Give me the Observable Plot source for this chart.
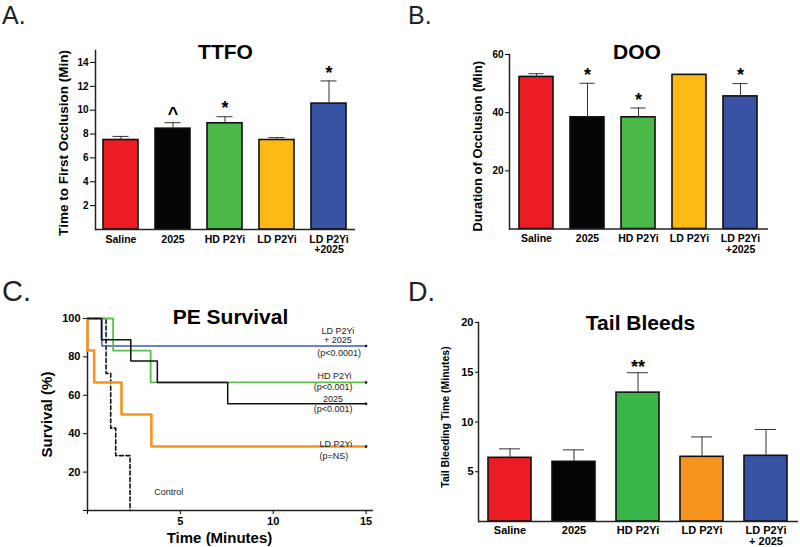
<!DOCTYPE html>
<html>
<head>
<meta charset="utf-8">
<script src="https://cdn.jsdelivr.net/npm/d3@7"></script>
<script src="https://cdn.jsdelivr.net/npm/@observablehq/plot@0.6"></script>
<style>
  html, body { margin: 0; padding: 0; background: #fff; }
  #root { position: relative; width: 800px; height: 547px; overflow: hidden; font-family: "Liberation Sans", Arial, Helvetica, sans-serif; }
  .panel { position: absolute; }
  .letter { position: absolute; font-weight: normal; color: #222; line-height: 1; }
</style>
</head>
<body>
<div id="root">
  <div class="panel" id="pA" style="left:0;top:0"></div>
  <div class="panel" id="pB" style="left:400px;top:0"></div>
  <div class="panel" id="pC" style="left:0;top:270px"></div>
  <div class="panel" id="pD" style="left:400px;top:270px"></div>
  <div class="letter" style="left:2px;top:3px;font-size:25px">A.</div>
  <div class="letter" style="left:408px;top:3px;font-size:25px">B.</div>
  <div class="letter" style="left:2px;top:277px;font-size:29px">C.</div>
  <div class="letter" style="left:408px;top:279px;font-size:27px">D.</div>
</div>
<script>
// ---------- data ----------
const categories = ["Saline", "2025", "HD P2Yi", "LD P2Yi", "LD P2Yi + 2025"];
const tickLabelsAB = ["Saline", "2025", "HD P2Yi", "LD P2Yi", "LD P2Yi\n+2025"];
const tickLabelsD = ["Saline", "2025", "HD P2Yi", "LD P2Yi", "LD P2Yi\n+ 2025"];

// A. TTFO
const ttfoMean = [7.5, 8.45, 8.9, 7.5, 10.55];
const ttfoSem = [0.3, 0.5, 0.55, 0.2, 1.9];
const ttfoSig = ["", "^", "*", "", "*"];
// B. DOO
const dooMean = [52.3, 38.4, 38.4, 53.0, 45.6];
const dooSem = [1.1, 11.7, 3.2, 0, 4.4];
const dooSig = ["", "*", "*", "", "*"];
// D. Tail bleeds
const tailMean = [6.4, 6.0, 12.95, 6.5, 6.6];
const tailSem = [0.9, 1.2, 2.0, 2.0, 2.65];
const tailSig = ["", "", "**", "", ""];

// C. PE survival (step functions: time in minutes, survival %)
const tCombo = [0, 0.78, 15];           const sCombo = [100, 85.7, 85.7];
const t2025 = [0, 0.75, 2.33, 3.76, 7.55, 15]; const s2025 = [100, 88.9, 77.8, 66.7, 55.6, 55.6];
const tHD = [0, 1.38, 3.4, 15];         const sHD = [100, 83.3, 66.7, 66.7];
const tLD = [0, 0, 0.36, 1.83, 3.44, 15]; const sLD = [100, 83.3, 66.7, 50, 33.3, 33.3];
const tCtrl = [0, 1.0, 1.25, 1.52, 2.29]; const sCtrl = [100, 71.4, 42.9, 28.6, 0];

const survLabels = ["LD P2Yi", "+ 2025", "(p<0.0001)", "HD P2Yi", "(p<0.001)", "2025", "(p<0.001)", "LD P2Yi", "(p=NS)", "Control"];
const survLabelT = [13.48, 13.48, 13.55, 13.3, 13.23, 13.22, 13.23, 13.37, 13.26, 4.37];
const survLabelS = [93.6, 88.9, 82.0, 70.0, 64.4, 58.0, 52.7, 34.8, 28.2, 9.4];

// ---------- styles ----------
const colorsAB = ["#ec1c24", "#050505", "#4cb848", "#fdb913", "#3953a4"];
const colorsD = ["#ec1c24", "#050505", "#39b54a", "#f7941d", "#3953a4"];
const FONT = '"Liberation Sans", Arial, Helvetica, sans-serif';

function rowsOf(mean, sem, sig) {
  return categories.map((c, i) => ({cat: c, v: mean[i], hi: mean[i] + sem[i], sem: sem[i], sig: sig[i]}));
}

function barPanel(opts) {
  const rows = rowsOf(opts.mean, opts.sem, opts.sig);
  const withErr = rows.filter(d => d.sem > 0);
  const withSig = rows.filter(d => d.sig);
  return Plot.plot({
    width: 400, height: opts.height,
    marginLeft: opts.ml, marginRight: opts.mr, marginTop: opts.mt, marginBottom: opts.mb,
    style: {fontFamily: FONT, fontWeight: "bold", color: "#000", background: "transparent", overflow: "visible"},
    x: {domain: categories, paddingInner: 0.325, paddingOuter: 0.1625, label: null},
    y: {domain: opts.ydomain, label: null},
    color: {domain: categories, range: opts.colors},
    marks: [
      Plot.barY(rows, {x: "cat", y: "v", fill: "cat", stroke: "#111", strokeWidth: 1.6}),
      Plot.ruleX(withErr, {x: "cat", y1: "v", y2: "hi", stroke: "#333", strokeWidth: 1}),
      Plot.tickY(withErr, {x: "cat", y: "hi", stroke: "#333", strokeWidth: 1, insetLeft: opts.capInset, insetRight: opts.capInset}),
      Plot.text(withSig, {x: "cat", y: "hi", text: "sig", dy: opts.sigDy, fontSize: 18, fontWeight: "bold"}),
      Plot.ruleY([0], {stroke: "#222", strokeWidth: 1.5}),
      Plot.frame({anchor: "left", stroke: "#222", strokeWidth: 1.5}),
      Plot.axisY({ticks: opts.yticks, tickSize: opts.tickSize, tickPadding: opts.tickPadding, fontSize: opts.yFont, label: null}),
      Plot.axisX({tickSize: 0, tickPadding: opts.xPad, fontSize: opts.xFont, tickFormat: (d, i) => opts.tickLabels[i], label: null}),
      Plot.text([opts.title], {frameAnchor: "top", lineAnchor: "middle", textAnchor: "middle", dy: opts.titleDy, dx: opts.titleDx || 0, fontSize: 21, fontWeight: "bold"}),
      Plot.text([opts.ylabel], {frameAnchor: "left", textAnchor: "middle", lineAnchor: "middle", rotate: -90, dx: opts.ylabDx, dy: opts.ylabDy, fontSize: opts.ylabFont, fontWeight: "bold"})
    ]
  });
}

document.getElementById("pA").append(barPanel({
  height: 270, ml: 95, mr: 45, mt: 50, mb: 41,
  mean: ttfoMean, sem: ttfoSem, sig: ttfoSig, colors: colorsAB,
  ydomain: [0, 15], yticks: [2, 4, 6, 8, 10, 12, 14], tickSize: 5, tickPadding: 2, yFont: 10,
  xPad: 6, xFont: 10.5, tickLabels: tickLabelsAB, capInset: 9.5, sigDy: -8,
  title: "TTFO", titleDy: 2, ylabel: "Time to First Occlusion (Min)", ylabDx: -32, ylabDy: 3, ylabFont: 13.5
}));

document.getElementById("pB").append(barPanel({
  height: 270, ml: 109, mr: 32, mt: 54, mb: 41.5,
  mean: dooMean, sem: dooSem, sig: dooSig, colors: colorsAB,
  ydomain: [0, 60], yticks: [20, 40, 60], tickSize: 4, tickPadding: 2, yFont: 10,
  xPad: 6, xFont: 10.5, tickLabels: tickLabelsAB, capInset: 9.5, sigDy: -8,
  title: "DOO", titleDy: -2.5, titleDx: -2, ylabel: "Duration of Occlusion (Min)", ylabDx: -32, ylabDy: 4.5, ylabFont: 13
}));

document.getElementById("pD").append(barPanel({
  height: 277, ml: 78, mr: 2, mt: 52, mb: 26,
  mean: tailMean, sem: tailSem, sig: tailSig, colors: colorsD,
  ydomain: [0, 20], yticks: [5, 10, 15, 20], tickSize: 3, tickPadding: 2, yFont: 11,
  xPad: 5, xFont: 11, tickLabels: tickLabelsD, capInset: 11, sigDy: -6,
  title: "Tail Bleeds", titleDy: 1, titleDx: 2, ylabel: "Tail Bleeding Time (Minutes)", ylabDx: -33, ylabDy: -5, ylabFont: 10.5
}));

// ---------- C. survival ----------
const zipTS = (t, s) => t.map((x, i) => ({t: x, s: s[i]}));
const lineOpts = {x: "t", y: "s", curve: "step-after"};
const survAnn = survLabels.map((l, i) => ({label: l, t: survLabelT[i], s: survLabelS[i]}));
const endPoints = [
  {t: tCombo[tCombo.length - 1], s: sCombo[sCombo.length - 1]},
  {t: tHD[tHD.length - 1], s: sHD[sHD.length - 1]},
  {t: t2025[t2025.length - 1], s: s2025[s2025.length - 1]},
  {t: tLD[tLD.length - 1], s: sLD[sLD.length - 1]}
];

document.getElementById("pC").append(Plot.plot({
  width: 400, height: 277,
  marginLeft: 87, marginRight: 27, marginTop: 48, marginBottom: 37,
  style: {fontFamily: FONT, fontWeight: "bold", color: "#000", background: "transparent", overflow: "visible"},
  x: {domain: [0, 15.4], label: null},
  y: {domain: [0, 100], label: null},
  marks: [
    Plot.ruleX([0], {stroke: "#222", strokeWidth: 1.5}),
    Plot.ruleY([0], {stroke: "#222", strokeWidth: 1.5}),
    Plot.axisY({ticks: [0, 20, 40, 60, 80, 100], tickFormat: d => d === 0 ? "" : d, tickSize: 4, tickPadding: 3, fontSize: 11, label: null}),
    Plot.axisX({ticks: [0, 5, 10, 15], tickFormat: d => d === 0 ? "" : d, tickSize: 4, tickPadding: 3, fontSize: 11, label: null}),
    Plot.line(zipTS(tCtrl, sCtrl), {...lineOpts, stroke: "#111", strokeWidth: 1.6, strokeDasharray: "4,2.5"}),
    Plot.line(zipTS(tLD, sLD), {...lineOpts, stroke: "#f7941d", strokeWidth: 2.6}),
    Plot.line(zipTS(tCombo, sCombo), {...lineOpts, stroke: "#3b5bb5", strokeWidth: 1.5}),
    Plot.line(zipTS(tHD, sHD), {...lineOpts, stroke: "#5cbf47", strokeWidth: 1.8}),
    Plot.line(zipTS(t2025, s2025), {...lineOpts, stroke: "#111", strokeWidth: 1.5}),
    Plot.dot(endPoints, {x: "t", y: "s", symbol: "square", r: 1.3, fill: "#111", stroke: null}),
    Plot.text(survAnn, {x: "t", y: "s", text: "label", fontSize: 9, fontWeight: "normal", fill: "#222"}),
    Plot.text(["PE Survival"], {frameAnchor: "top", lineAnchor: "middle", textAnchor: "middle", dy: -1.5, fontSize: 21, fontWeight: "bold"}),
    Plot.text(["Survival (%)"], {frameAnchor: "left", textAnchor: "middle", lineAnchor: "middle", rotate: -90, dx: -40, dy: 0, fontSize: 15, fontWeight: "bold"}),
    Plot.text(["Time (Minutes)"], {frameAnchor: "bottom", textAnchor: "middle", lineAnchor: "middle", dx: -11, dy: 28, fontSize: 15, fontWeight: "bold"})
  ]
}));
</script>
</body>
</html>
